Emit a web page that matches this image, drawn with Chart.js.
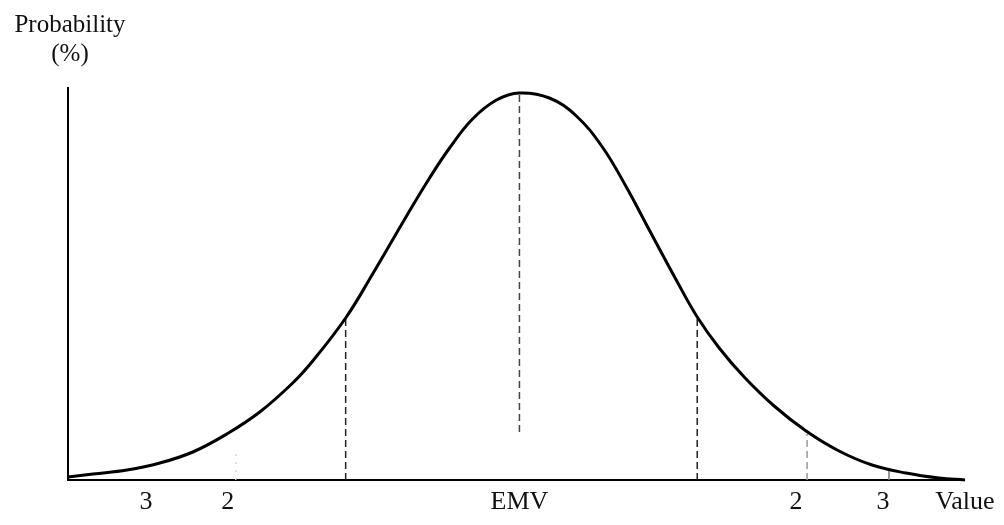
<!DOCTYPE html>
<html>
<head>
<meta charset="utf-8">
<script src="https://cdn.jsdelivr.net/npm/chart.js@4/dist/chart.umd.min.js"></script>
<style>
  html, body { margin: 0; padding: 0; background: #fff; }
  #wrap { width: 1004px; height: 525px; }
</style>
</head>
<body>
<div id="wrap"><canvas id="Curve"></canvas></div>
<script>
// curve (x: value offset from EMV, y: probability)
const curve_x = [-45.2, -42.7, -39.3, -36.0, -32.7, -29.3, -26.0, -22.7, -20.7, -17.4, -14.7, -11.3, -9.0, -7.0, -4.7, -2.3,
    0, 3.0, 5.7, 8.3, 10.7, 13.0, 15.7, 17.8, 20.0, 22.5, 25.5, 28.7, 32.0, 35.3, 38.7, 42.0, 44.6];
const curve_y = [0.3, 0.6, 1.0, 1.7, 2.8, 4.6, 6.8, 9.7, 11.9, 16.2, 20.6, 26.4, 30.2, 33.2, 36.1, 38.0,
    38.7, 38.2, 36.4, 33.3, 29.3, 25.0, 20.0, 16.3, 13.2, 10.3, 7.4, 4.9, 2.9, 1.5, 0.7, 0.2, 0.0];

// dropped lines: position, lower end, upper end
const drop_x = [-28.4, -17.4, 0, 17.8, 28.8, 37.0];
const drop_from = [0, 0, 4.8, 0, 0, 0];
const drop_to = [2.8, 16.2, 38.7, 16.3, 4.6, 1.2];
const drop_color = ['#d4d4d4', '#222', '#444', '#222', '#9a9a9a', '#777'];
const drop_dash = [[2, 6], [7, 4], [7, 4], [7, 4], [7, 4], []];

const tick_values = [-37.4, -29.2, 0, 27.7, 36.4, 44.6];
const tick_labels = ['3', '2', 'EMV', '2', '3', 'Value'];

const x_min = -45.2;
const x_max = 44.6;
const y_max = 39.2;

const serif = "'Liberation Serif', 'DejaVu Serif', serif";

let datasets = [{
    label: 'curve',
    data: curve_x.map((x, i) => ({x: x, y: curve_y[i]})),
    borderColor: '#000',
    borderWidth: 3,
    pointRadius: 0,
    tension: 0.4,
    clip: false,
}];

for (let i = 0; i < drop_x.length; i++) {
    datasets.push({
        label: 'drop ' + i,
        data: [{x: drop_x[i], y: drop_from[i]}, {x: drop_x[i], y: drop_to[i]}],
        borderColor: drop_color[i],
        borderWidth: 1.5,
        borderDash: drop_dash[i],
        pointRadius: 0,
    });
}

const yTitle = {
    id: 'yTitle',
    afterDraw(chart) {
        const ctx = chart.ctx;
        ctx.save();
        ctx.fillStyle = '#111';
        ctx.font = '25px ' + serif;
        ctx.textAlign = 'center';
        ctx.textBaseline = 'alphabetic';
        ctx.fillText('Probability', 70, 32);
        ctx.fillText('(%)', 70, 61);
        ctx.restore();
    }
};

new Chart(document.getElementById('Curve'), {
    type: 'line',
    data: {datasets: datasets},
    plugins: [yTitle],
    options: {
        responsive: true,
        maintainAspectRatio: false,
        animation: false,
        layout: {
            padding: {left: 68, top: 88, right: 38, bottom: 0}
        },
        plugins: {
            legend: {display: false},
            tooltip: {enabled: false},
        },
        scales: {
            x: {
                type: 'linear',
                min: x_min,
                max: x_max,
                grid: {display: false, drawTicks: false},
                border: {display: true, color: '#000', width: 2},
                afterBuildTicks: (axis) => {
                    axis.ticks = tick_values.map(v => ({value: v}));
                },
                ticks: {
                    autoSkip: false,
                    maxRotation: 0,
                    padding: 9.5,
                    color: '#111',
                    font: {family: serif, size: 26, lineHeight: 1.0},
                    callback: (val, index) => tick_labels[index],
                },
            },
            y: {
                type: 'linear',
                min: 0,
                max: y_max,
                grid: {display: false, drawTicks: false},
                border: {display: true, color: '#000', width: 2},
                ticks: {display: false},
            }
        }
    }
});
</script>
</body>
</html>
